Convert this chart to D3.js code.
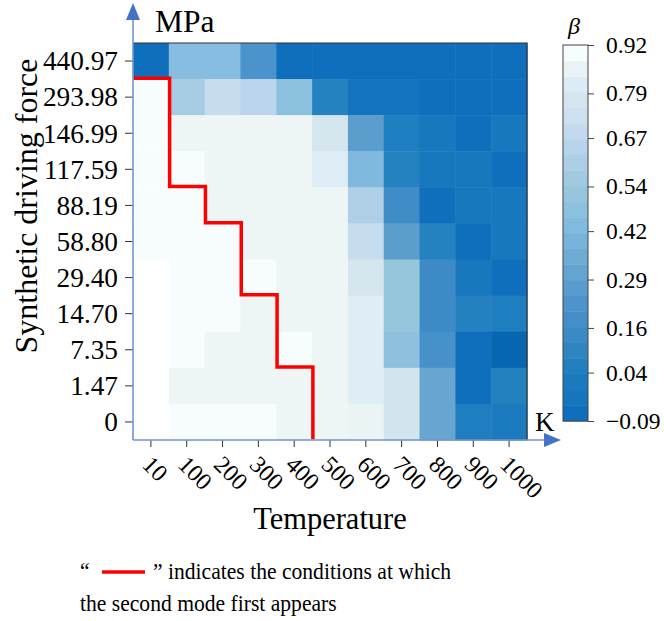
<!DOCTYPE html>
<html>
<head>
<meta charset="utf-8">
<script src="https://cdn.jsdelivr.net/npm/d3@7"></script>
<style>
  body { margin: 0; background: #fff; }
  svg { display: block; }
</style>
</head>
<body>
<svg id="chart" width="664" height="621"></svg>
<script>
// Temperature columns (K)
const temperatures = ["10", "100", "200", "300", "400", "500", "600", "700", "800", "900", "1000"];
// Synthetic driving force rows (MPa), top to bottom
const drivingForces = ["440.97", "293.98", "146.99", "117.59", "88.19", "58.80", "29.40", "14.70", "7.35", "1.47", "0"];

// beta for each driving force row, across the temperature columns
const beta_440_97 = [-0.07, 0.45, 0.45, 0.22, -0.07, -0.07, -0.07, -0.07, -0.07, -0.07, -0.07];
const beta_293_98 = [0.90, 0.58, 0.70, 0.66, 0.47, 0.07, -0.03, -0.03, -0.07, -0.07, -0.07];
const beta_146_99 = [0.90, 0.87, 0.87, 0.87, 0.87, 0.78, 0.28, 0.04, 0.00, -0.07, 0.00];
const beta_117_59 = [0.90, 0.90, 0.87, 0.87, 0.87, 0.83, 0.43, 0.07, 0.00, 0.00, -0.07];
const beta_88_19  = [0.90, 0.90, 0.87, 0.87, 0.87, 0.87, 0.62, 0.16, -0.07, 0.00, 0.00];
const beta_58_80  = [0.90, 0.90, 0.90, 0.87, 0.87, 0.87, 0.70, 0.28, 0.07, -0.07, 0.00];
const beta_29_40  = [0.92, 0.90, 0.90, 0.90, 0.87, 0.87, 0.78, 0.52, 0.15, 0.00, -0.07];
const beta_14_70  = [0.92, 0.90, 0.90, 0.87, 0.87, 0.87, 0.83, 0.52, 0.15, 0.06, 0.04];
const beta_7_35   = [0.92, 0.90, 0.87, 0.87, 0.90, 0.87, 0.83, 0.48, 0.20, -0.07, -0.09];
const beta_1_47   = [0.92, 0.87, 0.87, 0.87, 0.87, 0.87, 0.83, 0.76, 0.32, -0.07, 0.06];
const beta_0      = [0.92, 0.90, 0.90, 0.90, 0.87, 0.87, 0.86, 0.76, 0.32, 0.04, 0.02];
const betaRows = [beta_440_97, beta_293_98, beta_146_99, beta_117_59, beta_88_19, beta_58_80,
                  beta_29_40, beta_14_70, beta_7_35, beta_1_47, beta_0];

// Temperature at which the second mode first appears, rows 293.98 .. 0
const secondModeOnset = ["100", "100", "100", "200", "300", "300", "400", "400", "500", "500"];

// Colour bar ticks
const colorbarTicks = [0.92, 0.79, 0.67, 0.54, 0.42, 0.29, 0.16, 0.04, -0.09];
const betaMin = -0.09, betaMax = 0.92;

// Colour ramp for beta
const rampStops  = [-0.09, -0.07, 0.0, 0.07, 0.15, 0.22, 0.32, 0.45, 0.52, 0.62, 0.70, 0.78, 0.83, 0.87, 0.90, 0.92];
const rampColors = ["#0866b1", "#0f6fbc", "#1878be", "#2582c0", "#3d8bc6", "#4b93cc", "#66a6d0", "#86bde0",
                    "#96c6dc", "#b0d0e8", "#c6dcef", "#d6e6ee", "#dfeef6", "#eef6f5", "#f7fdfe", "#ffffff"];
const color = d3.scaleLinear().domain(rampStops).range(rampColors).clamp(true);

const FONT = "'Liberation Serif', 'Times New Roman', Times, serif";
const svg = d3.select("#chart").attr("font-family", FONT);
const plot = { left: 133, right: 527, top: 43, bottom: 440 };
const axisBlue = "#7393d6", arrowBlue = "#4472c4";

const x = d3.scaleBand().domain(temperatures).range([plot.left, plot.right]);
const y = d3.scaleBand().domain(drivingForces).range([plot.top, plot.bottom]);

// Heatmap cells
const cells = [];
drivingForces.forEach((f, i) => temperatures.forEach((t, j) => cells.push({ f, t, v: betaRows[i][j] })));
svg.append("g").selectAll("rect").data(cells).join("rect")
  .attr("x", d => x(d.t)).attr("y", d => y(d.f))
  .attr("width", x.bandwidth() + 0.5).attr("height", y.bandwidth() + 0.5)
  .attr("fill", d => color(d.v));

// Frame: dark top/right edges
svg.append("path")
  .attr("d", `M${plot.left},${plot.top}H${plot.right}V${plot.bottom}`)
  .attr("fill", "none").attr("stroke", "#333").attr("stroke-width", 1.2);

// Second-mode onset boundary
const onsetRows = drivingForces.slice(1);
const pts = [[plot.left, y(onsetRows[0])]];
onsetRows.forEach((r, i) => {
  const xx = x(secondModeOnset[i]);
  pts.push([xx, y(r)], [xx, y(r) + y.bandwidth()]);
});
svg.append("path").attr("d", d3.line()(pts))
  .attr("transform", "translate(0.8,-0.8)")
  .attr("fill", "none").attr("stroke", "#ff0000").attr("stroke-width", 3.5)
  .attr("stroke-linejoin", "miter");

// Y axis
const yAxis = svg.append("g").attr("transform", `translate(${plot.left},0)`)
  .call(d3.axisLeft(y).tickSize(8).tickPadding(7));
yAxis.select(".domain").remove();
yAxis.selectAll(".tick line").attr("stroke", "#333");
yAxis.selectAll(".tick text").style("font-size", "27.3px").attr("dy", "0.34em");

// X axis
const xAxis = svg.append("g").attr("transform", `translate(0,${plot.bottom})`)
  .call(d3.axisBottom(x).tickSize(7));
xAxis.select(".domain").remove();
xAxis.selectAll(".tick line").attr("stroke", "#333");
xAxis.selectAll(".tick text")
  .style("font-size", "24px")
  .attr("text-anchor", "start")
  .attr("y", 0).attr("dy", 0)
  .attr("transform", "translate(-10,26) rotate(45)");

// Arrowed axis lines
svg.append("line").attr("x1", plot.left).attr("x2", plot.left)
  .attr("y1", plot.bottom).attr("y2", 16)
  .attr("stroke", axisBlue).attr("stroke-width", 1.6);
svg.append("path").attr("d", `M${plot.left},3L${plot.left - 7},20L${plot.left + 7},20Z`).attr("fill", arrowBlue);
svg.append("line").attr("x1", plot.left).attr("x2", 548)
  .attr("y1", plot.bottom).attr("y2", plot.bottom)
  .attr("stroke", axisBlue).attr("stroke-width", 1.6);
svg.append("path").attr("d", `M561,${plot.bottom}L544,${plot.bottom - 7}L544,${plot.bottom + 7}Z`).attr("fill", arrowBlue);

// Axis units and titles
svg.append("text").attr("x", 155).attr("y", 32).style("font-size", "31.5px").text("MPa");
svg.append("text").attr("x", 535).attr("y", 431).style("font-size", "27px").text("K");
svg.append("text").attr("x", (plot.left + plot.right) / 2).attr("y", 529)
  .attr("text-anchor", "middle").style("font-size", "30.5px").text("Temperature");
svg.append("text").attr("transform", "translate(37,206) rotate(-90)")
  .attr("text-anchor", "middle").style("font-size", "32px").text("Synthetic driving force");

// Colour bar
const cb = { x: 563, w: 25, top: 45, bottom: 421 };
const cbScale = d3.scaleLinear().domain([betaMin, betaMax]).range([cb.bottom, cb.top]);
const nBands = 24;
const bandStep = (betaMax - betaMin) / nBands;
const bands = d3.range(nBands).map(i => betaMin + bandStep * i);
svg.append("g").selectAll("rect").data(bands).join("rect")
  .attr("x", cb.x).attr("width", cb.w)
  .attr("y", d => cbScale(d + bandStep)).attr("height", d => cbScale(d) - cbScale(d + bandStep) + 0.5)
  .attr("fill", d => color(d + bandStep / 2));
svg.append("rect").attr("x", cb.x).attr("y", cb.top).attr("width", cb.w).attr("height", cb.bottom - cb.top)
  .attr("fill", "none").attr("stroke", "#444").attr("stroke-width", 1);
const cbAxis = svg.append("g").attr("transform", `translate(${cb.x + cb.w},0)`)
  .call(d3.axisRight(cbScale).tickValues(colorbarTicks).tickSize(6).tickPadding(12)
    .tickFormat(d => d < 0 ? "\u2212" + Math.abs(d).toFixed(2) : d.toFixed(2)));
cbAxis.select(".domain").remove();
cbAxis.selectAll(".tick line").attr("stroke", "#444");
cbAxis.selectAll(".tick text").style("font-size", "23.5px");
svg.append("text").attr("x", 574).attr("y", 34).attr("text-anchor", "middle")
  .style("font-size", "24px").style("font-style", "italic").text("β");

// Note below the chart (slightly condensed face)
svg.append("text").attr("transform", "translate(80,579) scale(0.9,1)").style("font-size", "24px").text("\u201c");
svg.append("line").attr("x1", 102).attr("x2", 145).attr("y1", 572).attr("y2", 572)
  .attr("stroke", "#ff0000").attr("stroke-width", 3.5);
svg.append("text").attr("transform", "translate(153,579) scale(0.9,1)").style("font-size", "24px")
  .text("\u201d indicates the conditions at which");
svg.append("text").attr("transform", "translate(80,611) scale(0.9,1)").style("font-size", "24px")
  .text("the second mode first appears");

// Serif face throughout, including the axis labels
svg.selectAll("text").style("font-family", FONT).attr("fill", "#000");
</script>
</body>
</html>
